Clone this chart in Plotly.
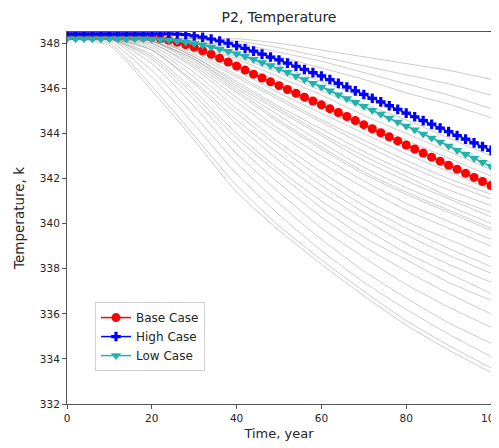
import plotly.graph_objects as go

# ---------------- data ----------------
years_case = list(range(0, 101, 2))

base_case = [348.3] * 9 + [
    348.29, 348.26, 348.21, 348.14, 348.05, 347.94, 347.82, 347.67, 347.51, 347.34,
    347.17, 346.99, 346.81, 346.63, 346.46, 346.29, 346.12, 345.95, 345.78, 345.61,
    345.44, 345.27, 345.10, 344.93, 344.75, 344.57, 344.39, 344.21, 344.03, 343.85,
    343.67, 343.49, 343.31, 343.13, 342.95, 342.77, 342.59, 342.41, 342.23, 342.05,
    341.87, 341.69]

high_case = [348.42] * 13 + [
    348.41, 348.38, 348.33, 348.27, 348.19, 348.10, 348.00, 347.89, 347.77, 347.65,
    347.52, 347.39, 347.26, 347.12, 346.98, 346.84, 346.70, 346.55, 346.39, 346.22,
    346.06, 345.89, 345.73, 345.56, 345.40, 345.23, 345.07, 344.90, 344.74, 344.57,
    344.41, 344.24, 344.08, 343.91, 343.75, 343.58, 343.42, 343.25]

low_case = [348.2] * 10 + [
    348.19, 348.17, 348.14, 348.10, 348.05, 347.99, 347.92, 347.84, 347.75, 347.65,
    347.54, 347.42, 347.29, 347.15, 347.01, 346.86, 346.71, 346.55, 346.39, 346.23,
    346.06, 345.89, 345.72, 345.55, 345.38, 345.21, 345.03, 344.86, 344.68, 344.51,
    344.33, 344.16, 343.98, 343.80, 343.62, 343.44, 343.26, 343.08, 342.90, 342.72,
    342.54]

years_ens = [0, 10, 20, 30, 40, 50, 60, 70, 80, 90, 100]

ensemble = [
    [348.2, 347.9, 345.9, 343.7, 341.4, 339.7, 338.2, 336.8, 335.5, 334.4, 333.4],
    [348.2, 348.0, 346.1, 343.9, 341.7, 339.9, 338.4, 337.0, 335.7, 334.6, 333.6],
    [348.2, 348.1, 346.5, 344.4, 342.2, 340.4, 338.8, 337.4, 336.2, 335.1, 334.1],
    [348.2, 348.2, 346.8, 344.8, 342.7, 340.9, 339.3, 337.9, 336.7, 335.6, 334.7],
    [348.2, 348.2, 347.1, 345.2, 343.1, 341.4, 339.8, 338.5, 337.3, 336.3, 335.4],
    [348.2, 348.2, 347.3, 345.5, 343.5, 341.8, 340.3, 339.0, 337.9, 336.9, 336.0],
    [348.2, 348.2, 347.4, 345.7, 343.8, 342.2, 340.7, 339.4, 338.4, 337.4, 336.6],
    [348.2, 348.2, 347.5, 345.9, 344.0, 342.4, 341.0, 339.8, 338.7, 337.8, 336.9],
    [348.2, 348.2, 347.7, 346.2, 344.4, 342.8, 341.4, 340.2, 339.1, 338.2, 337.4],
    [348.2, 348.2, 347.7, 346.3, 344.6, 343.1, 341.7, 340.5, 339.5, 338.6, 337.8],
    [348.2, 348.2, 347.8, 346.5, 344.9, 343.4, 342.0, 340.8, 339.8, 338.9, 338.1],
    [348.2, 348.2, 347.9, 346.7, 345.1, 343.6, 342.3, 341.1, 340.1, 339.3, 338.5],
    [348.2, 348.2, 348.0, 346.9, 345.4, 344.0, 342.7, 341.6, 340.6, 339.8, 339.0],
    [348.2, 348.2, 348.0, 347.0, 345.6, 344.2, 343.0, 341.9, 340.9, 340.1, 339.3],
    [348.2, 348.2, 348.1, 347.1, 345.8, 344.5, 343.3, 342.2, 341.3, 340.5, 339.7],
    [348.2, 348.2, 348.1, 347.3, 346.0, 344.8, 343.6, 342.5, 341.6, 340.8, 340.0],
    [348.2, 348.2, 348.1, 347.3, 346.1, 345.0, 343.9, 342.8, 341.9, 341.1, 340.3],
    [348.2, 348.2, 348.2, 347.4, 346.3, 345.2, 344.2, 343.2, 342.3, 341.5, 340.8],
    [348.2, 348.2, 348.2, 347.5, 346.5, 345.5, 344.5, 343.5, 342.6, 341.8, 341.1],
    [348.2, 348.2, 348.1, 347.2, 345.9, 344.6, 343.4, 342.3, 341.4, 340.6, 339.8],
    [348.2, 348.2, 348.2, 347.4, 346.2, 345.1, 344.0, 343.0, 342.1, 341.2, 340.5],
    [348.2, 348.2, 348.2, 347.6, 346.6, 345.6, 344.6, 343.7, 342.8, 342.0, 341.3],
    [348.2, 348.2, 348.2, 347.7, 346.8, 345.8, 344.9, 344.0, 343.1, 342.3, 341.5],
    [348.2, 348.2, 348.2, 347.8, 346.9, 346.0, 345.1, 344.2, 343.3, 342.5, 341.7],
    [348.2, 348.2, 348.2, 347.8, 347.0, 346.1, 345.2, 344.3, 343.5, 342.7, 341.9],
    [348.2, 348.2, 348.2, 347.9, 347.1, 346.3, 345.4, 344.5, 343.7, 342.9, 342.1],
    [348.2, 348.2, 348.2, 347.9, 347.3, 346.5, 345.7, 344.8, 344.0, 343.2, 342.4],
    [348.2, 348.2, 348.2, 348.0, 347.4, 346.7, 345.9, 345.1, 344.3, 343.5, 342.7],
    [348.2, 348.2, 348.2, 348.0, 347.5, 346.8, 346.1, 345.3, 344.6, 343.8, 343.0],
    [348.2, 348.2, 348.2, 348.1, 347.6, 347.0, 346.3, 345.6, 344.9, 344.1, 343.4],
    [348.2, 348.2, 348.2, 348.1, 347.8, 347.4, 346.9, 346.4, 345.8, 345.3, 344.7],
    [348.2, 348.2, 348.2, 348.2, 348.0, 347.6, 347.2, 346.7, 346.2, 345.7, 345.1],
    [348.2, 348.2, 348.2, 348.2, 348.1, 347.8, 347.4, 347.0, 346.6, 346.2, 345.7],
    [348.2, 348.2, 348.2, 348.2, 348.2, 348.0, 347.7, 347.4, 347.1, 346.8, 346.4],
]

x_ticks = [0, 20, 40, 60, 80, 100]
y_ticks = [332, 334, 336, 338, 340, 342, 344, 346, 348]

# ---------------- figure ----------------
FONT = "DejaVu Sans"
TXT = "#262626"
fig = go.Figure()

for vals in ensemble:
    fig.add_trace(go.Scatter(
        x=years_ens, y=vals, mode="lines",
        line=dict(color="rgba(128,128,128,0.4)", width=1, shape="spline", smoothing=0.6),
        showlegend=False, hoverinfo="skip"))

fig.add_trace(go.Scatter(
    x=years_case, y=base_case, mode="lines+markers", name="Base Case",
    line=dict(color="red", width=1.5),
    marker=dict(symbol="circle", size=9, color="red")))
fig.add_trace(go.Scatter(
    x=years_case, y=high_case, mode="lines+markers", name="High Case",
    line=dict(color="blue", width=1.5),
    marker=dict(symbol="cross", size=8, color="blue")))
fig.add_trace(go.Scatter(
    x=years_case, y=low_case, mode="lines+markers", name="Low Case",
    line=dict(color="#1fb3ad", width=1.5),
    marker=dict(symbol="triangle-down", size=9, color="#1fb3ad")))

axis_common = dict(
    showgrid=False, zeroline=False, showline=True, mirror=True,
    linecolor="#555555", linewidth=1, ticks="outside", ticklen=4,
    tickcolor="#555555", tickfont=dict(family=FONT, size=10.5, color=TXT),
    automargin=False, ticklabeloverflow="allow",
)

fig.update_layout(
    width=499, height=448,
    margin=dict(l=59, r=16, t=24, b=52),
    paper_bgcolor="white", plot_bgcolor="white",
    title=dict(text="P2, Temperature", x=0.5, xanchor="center",
               xref="paper", y=0.99, yanchor="top", pad=dict(t=0),
               font=dict(family=FONT, size=14, color=TXT)),
    xaxis=dict(range=[0, 100], tickvals=x_ticks,
               title=dict(text="Time, year", standoff=6,
                          font=dict(family=FONT, size=13, color=TXT)),
               **axis_common),
    yaxis=dict(range=[332, 348.5], tickvals=y_ticks,
               title=dict(text="Temperature, k", standoff=12,
                          font=dict(family=FONT, size=13.5, color=TXT)),
               **axis_common),
    legend=dict(x=0.066, y=0.274, xanchor="left", yanchor="top",
                bgcolor="rgba(255,255,255,0.85)", bordercolor="#d0d0d0",
                borderwidth=1, font=dict(family=FONT, size=12, color=TXT),
                itemwidth=30, tracegroupgap=0),
    showlegend=True,
)

fig.write_html("out.html")
